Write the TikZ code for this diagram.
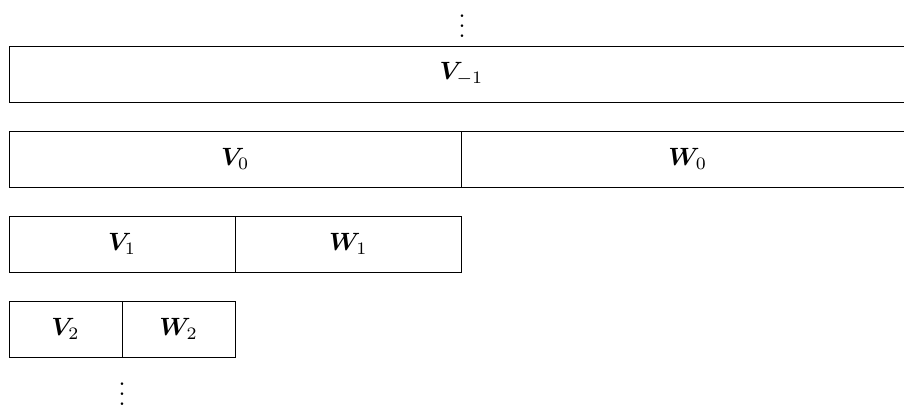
\documentclass[tikz,border=0pt]{standalone}
\usepackage{bm}
\begin{document}
\begin{tikzpicture}[x=0.4pt,y=-0.4pt,
  cell/.style={draw, line width=0.4pt, rectangle, minimum height=22.4pt, inner sep=0pt, outer sep=0pt, anchor=north west},
  dotsnode/.style={inner sep=0pt, outer sep=0pt, anchor=south}]
\useasboundingbox (0,0) rectangle (904,407);
\clip (0,0) rectangle (904,407);
\node[cell, minimum width=362pt] (vm1) at (9,46) {$\bm{V}_{-1}$};
\node[cell, minimum width=181pt] (v0) at (9,131) {$\bm{V}_0$};
\node[cell, minimum width=181pt] (w0) at (461.5,131) {$\bm{W}_0$};
\node[cell, minimum width=90.5pt] (v1) at (9,216) {$\bm{V}_1$};
\node[cell, minimum width=90.5pt] (w1) at (235.25,216) {$\bm{W}_1$};
\node[cell, minimum width=45.25pt] (v2) at (9,301) {$\bm{V}_2$};
\node[cell, minimum width=45.25pt] (w2) at (122.1,301) {$\bm{W}_2$};
\node[dotsnode] (topdots) at (462,37.5) {$\vdots$};
\node[dotsnode] (botdots) at (122,405) {$\vdots$};
\end{tikzpicture}
\end{document}
